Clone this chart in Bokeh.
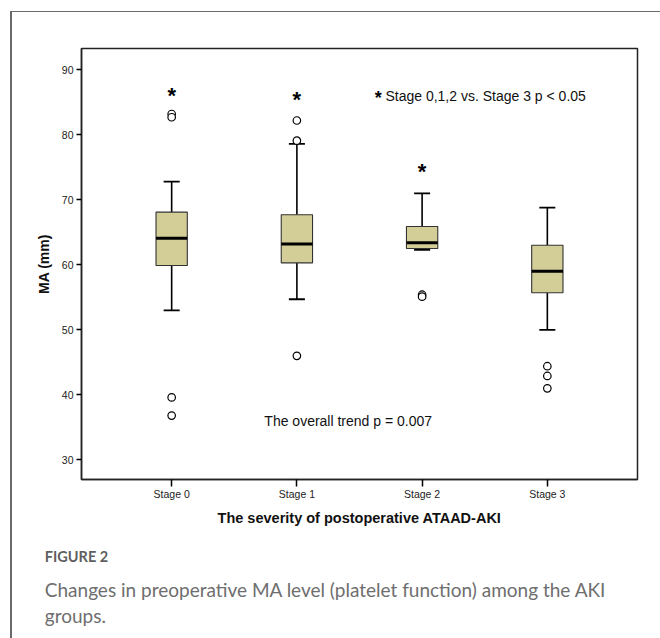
from bokeh.plotting import figure
from bokeh.layouts import column, row
from bokeh.models import (FactorRange, Range1d, FixedTicker, Label, Div,
                          ColumnDataSource, Title)
from bokeh.transform import dodge
from bokeh.core.properties import value
from bokeh.embed import file_html
from bokeh.resources import INLINE

# ---------------- data ----------------
stages = ["Stage 0", "Stage 1", "Stage 2", "Stage 3"]
q1 = [59.9, 60.3, 62.5, 55.7]
median = [64.1, 63.2, 63.4, 59.0]
q3 = [68.1, 67.7, 65.9, 63.0]
whisker_low = [53.0, 54.7, 62.3, 50.0]
whisker_high = [72.8, 78.6, 71.0, 68.8]

outlier_stage = ["Stage 0", "Stage 0", "Stage 0", "Stage 0",
                 "Stage 1", "Stage 1", "Stage 1",
                 "Stage 2", "Stage 2",
                 "Stage 3", "Stage 3", "Stage 3"]
outlier_value = [83.2, 82.7, 39.6, 36.8,
                 82.2, 79.1, 46.0,
                 55.4, 55.1,
                 44.4, 42.9, 41.0]

star_stage = ["Stage 0", "Stage 1", "Stage 2"]
star_value = [86.3, 85.7, 74.6]

y_ticks = [30, 40, 50, 60, 70, 80, 90]

y_label = "MA (mm)"
x_label = "The severity of postoperative ATAAD-AKI"
note_sig = "Stage 0,1,2 vs. Stage 3 p < 0.05"
note_trend = "The overall trend p = 0.007"
caption_head = "FIGURE 2"
caption_line1 = "Changes in preoperative MA level (platelet function) among the AKI"
caption_line2 = "groups."

# ---------------- figure ----------------
FONT = "Liberation Sans"
CAP_FONT = "Lato"
BOX_FILL = "#d3ce97"
FRAME_GREY = "#6a6a6a"
STRIP = 12  # width of the strips carrying the outer frame lines

p = figure(width=660 - STRIP, height=638 - STRIP, output_backend="svg",
           toolbar_location=None,
           x_range=FactorRange(factors=stages, range_padding=0.11),
           y_range=Range1d(26.97, 93.28),
           min_border_left=69, min_border_right=23,
           min_border_top=36, min_border_bottom=159)
p.background_fill_color = "white"
p.border_fill_color = "white"
p.outline_line_color = "#222222"
p.outline_line_width = 1.5
p.xgrid.visible = False
p.ygrid.visible = False

box_src = ColumnDataSource(dict(stage=stages, q1=q1, med=median, q3=q3,
                                lo=whisker_low, hi=whisker_high))

# whiskers
p.segment(x0="stage", y0="q3", x1="stage", y1="hi", source=box_src,
          line_color="black", line_width=1.6)
p.segment(x0="stage", y0="lo", x1="stage", y1="q1", source=box_src,
          line_color="black", line_width=1.6)
cap = 0.064
p.segment(x0=dodge("stage", -cap, range=p.x_range), y0="hi",
          x1=dodge("stage", cap, range=p.x_range), y1="hi", source=box_src,
          line_color="black", line_width=1.8)
p.segment(x0=dodge("stage", -cap, range=p.x_range), y0="lo",
          x1=dodge("stage", cap, range=p.x_range), y1="lo", source=box_src,
          line_color="black", line_width=1.8)
# boxes
p.vbar(x="stage", width=0.25, bottom="q1", top="q3", source=box_src,
       fill_color=BOX_FILL, line_color="#333333", line_width=1.1)
# medians
p.segment(x0=dodge("stage", -0.125, range=p.x_range), y0="med",
          x1=dodge("stage", 0.125, range=p.x_range), y1="med", source=box_src,
          line_color="black", line_width=3)

# outliers
p.scatter(x=outlier_stage, y=outlier_value, marker="circle", size=7.5,
          fill_color="white", line_color="black", line_width=1.2)

# significance stars
p.text(x=star_stage, y=star_value, text=["*"] * len(star_stage),
       text_font=value(FONT), text_font_style="bold", text_font_size="22px",
       text_align="center", text_baseline="alphabetic", y_offset=1.5,
       text_color="black")

# ---------------- axes ----------------
p.yaxis.ticker = FixedTicker(ticks=y_ticks)
p.yaxis.minor_tick_line_color = None
p.yaxis.major_tick_in = 0
p.yaxis.major_tick_out = 5
p.yaxis.major_tick_line_width = 1.5
p.yaxis.major_label_standoff = 3
p.yaxis.major_label_text_font = FONT
p.yaxis.major_label_text_font_size = "10.5px"
p.yaxis.major_label_text_color = "#222222"
p.yaxis.axis_line_color = "#222222"
p.yaxis.axis_line_width = 1.5
p.yaxis.axis_label = y_label
p.yaxis.axis_label_text_font = FONT
p.yaxis.axis_label_text_font_style = "bold"
p.yaxis.axis_label_text_font_size = "14px"
p.yaxis.axis_label_text_color = "#111111"
p.yaxis.axis_label_standoff = 7

p.xaxis.major_tick_in = 0
p.xaxis.major_tick_out = 7
p.xaxis.major_tick_line_width = 1.5
p.xaxis.major_label_standoff = 1
p.xaxis.major_label_text_font = FONT
p.xaxis.major_label_text_font_size = "10.5px"
p.xaxis.major_label_text_color = "#222222"
p.xaxis.axis_line_color = "#222222"
p.xaxis.axis_line_width = 1.5
p.xaxis.axis_label = x_label
p.xaxis.axis_label_text_font = FONT
p.xaxis.axis_label_text_font_style = "bold"
p.xaxis.axis_label_text_font_size = "14.5px"
p.xaxis.axis_label_text_color = "#111111"
p.xaxis.axis_label_standoff = 7

# ---------------- annotations ----------------
p.add_layout(Label(x=2.149, y=85.94, text="*", text_font=FONT, text_font_style="bold",
                   text_font_size="18px", text_align="center",
                   text_baseline="alphabetic", y_offset=-2, text_color="black"))
p.add_layout(Label(x=2.207, y=85.94, text=note_sig, text_font=FONT,
                   text_font_size="14px", text_baseline="middle", text_color="#111111"))
p.add_layout(Label(x=1.24, y=35.9, text=note_trend, text_font=FONT,
                   text_font_size="14px", text_baseline="middle", text_color="#111111"))

# caption below the chart
p.add_layout(Title(text=" ", text_font_size="1px", standoff=3), "below")
p.add_layout(Title(text=caption_head, text_font=CAP_FONT, text_font_style="bold",
                   text_font_size="14.5px", text_color="#5f5f5f", align="left",
                   offset=-36.7, standoff=22), "below")
p.add_layout(Title(text=caption_line1 + "\n" + caption_line2, text_font=CAP_FONT,
                   text_font_style="normal", text_font_size="19px",
                   text_color="#6e6e6e", align="left", offset=-36.7, standoff=0,
                   text_line_height=1.17), "below")

# ---------------- outer frame (top and left edges) ----------------
top = Div(width=660, height=STRIP, margin=0,
          text=('<div style="margin:0 0 0 10.25px;padding:0;width:649.75px;'
                'height:10.25px;box-sizing:content-box;'
                'border-bottom:1.5px solid %s;"></div>' % FRAME_GREY))
left = Div(width=STRIP, height=638 - STRIP, margin=0,
           text=('<div style="position:relative;left:10.25px;top:0px;'
                 'width:1.5px;height:%dpx;background:%s;"></div>' % (638 - STRIP, FRAME_GREY)))

layout = column(top, row(left, p, spacing=0), spacing=0)

open("out.html", "w").write(file_html(layout, INLINE))
